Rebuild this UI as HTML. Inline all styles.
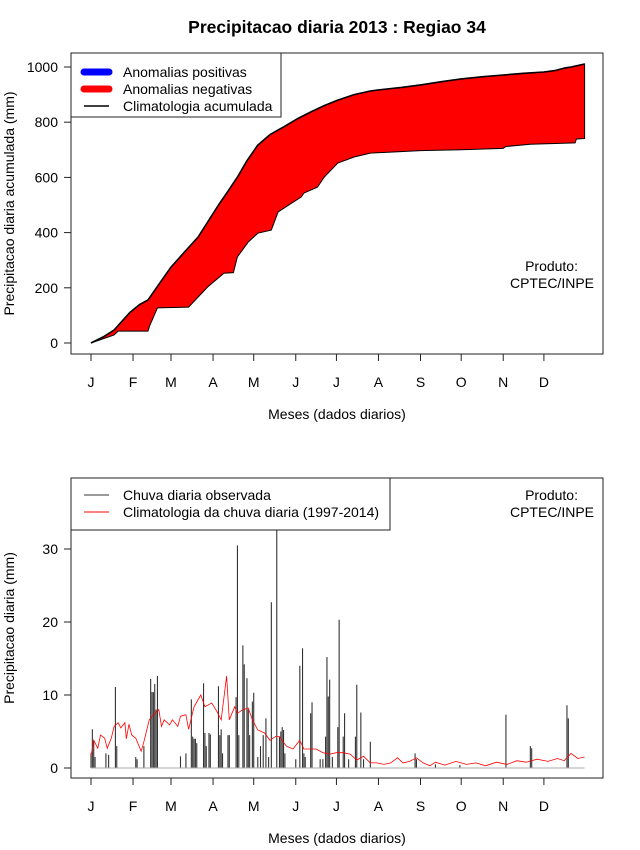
<!DOCTYPE html>
<html><head><meta charset="utf-8"><title>Precipitacao diaria 2013 : Regiao 34</title>
<style>
body{margin:0;background:#fff;}
svg{display:block;font-family:"Liberation Sans",Arial,sans-serif;}
</style></head>
<body>
<svg id="chart" width="640" height="850" viewBox="0 0 640 850">
<rect x="0" y="0" width="640" height="850" fill="#fff"/>
<text x="337" y="33" text-anchor="middle" font-size="17.5" font-weight="bold">Precipitacao diaria 2013 : Regiao 34</text>
<g id="top"></g>
<g id="bot"></g>
</svg>
<script>
// ---- data ----
const monthLabels = ["J","F","M","A","M","J","J","A","S","O","N","D"];
const monthStartDays = [1,32,60,91,121,152,182,213,244,274,305,335];
const topYTicks = [0,200,400,600,800,1000];
const botYTicks = [0,10,20,30];
// cumulative climatology knots (day, mm)
const climCumDays = [1,10,18,25,30,37,43,50,60,70,80,95,102,109,116,124,133,143,153,163,173,183,195,207,213,230,244,260,274,290,305,320,335,343,350,355,365];
const climCumVals = [0,22,47,85,112,140,156,205,275,330,384,500,550,601,660,717,755,783,812,837,860,880,900,913,917,926,935,947,957,965,971,977,982,987,996,1000,1011];
// cumulative observed knots (day, mm)
const obsCumDays = [1,18,21,43,44,50,73,87,99,106,109,117,124,134,139,149,156,158,168,173,183,195,207,244,274,305,307,325,358,359,365];
const obsCumVals = [0,29,43,43,59,127,130,203,253,255,312,366,398,409,475,507,529,543,565,601,652,674,688,697,700,705,712,720,725,739,741];
// daily observed rain (day, mm)
const obsDays = [1,2,3,4,12,14,19,20,34,35,40,45,46,47,48,49,50,67,71,75,76,77,78,79,84,85,86,88,89,95,96,97,98,102,103,108,109,110,113,114,116,117,118,120,121,124,126,128,130,132,134,138,140,141,142,143,144,152,155,157,158,159,163,164,170,172,174,175,176,177,179,183,184,187,188,191,196,197,200,202,207,240,241,255,273,307,325,326,352,353];
const obsVals = [2,5.3,3.8,1.5,2,1.8,11.1,3,1.5,1.2,3,12.2,10.4,10.4,11.5,8,12.6,1.6,2,9.4,4.3,4,4,3.4,11.6,4.8,3,4.8,4.6,11.2,4.5,5.3,2,4.5,4.5,9.7,30.5,4.5,16.8,14.2,12.3,8,4.5,9.1,10.3,1.5,3,4.5,6.8,1.5,22.7,38,4.3,5,5.6,5.2,2,1.2,14,16.4,2,1.5,7.5,9,1.2,1.2,4.3,15.2,9.8,12.1,1.5,5.6,20.3,4.3,7.5,1.2,4.3,11.4,7.6,1.2,3.6,2,1.2,0.5,0.4,7.3,3,2.7,8.6,6.8];
// daily climatology (day, mm)
const climDays = [1,3,6,8,11,13,16,18,21,23,26,27,29,31,34,38,40,44,48,51,53,55,59,61,65,67,71,73,77,82,85,90,94,97,101,103,107,109,113,117,120,124,129,133,137,140,145,150,155,158,163,167,172,177,182,187,192,197,202,207,212,217,222,227,231,236,241,246,251,255,262,270,278,285,292,300,308,315,322,330,338,345,350,355,360,365];
const climVals = [1.6,3.8,2.7,4.5,4.1,2.7,4.1,5.7,6.2,5.5,6.2,4.0,6.0,4.5,4.1,2.3,3.6,6.6,7.5,8.0,5.7,6.6,5.9,6.6,5.7,7.1,7.3,5.3,8.4,10.0,8.4,8.9,7.7,6.6,12.6,6.6,8.4,7.5,8.0,8.2,6.6,5.2,4.8,3.8,4.3,4.3,3.0,2.6,3.8,2.6,2.6,2.6,2.1,1.9,2.1,2.1,1.9,1.1,1.6,0.7,0.7,0.5,0.7,1.4,0.7,0.9,1.4,0.7,0.3,0.8,0.4,0.9,0.5,0.7,0.3,0.8,0.5,1.0,0.8,1.2,0.9,1.3,1.0,2.0,1.3,1.5];

// ---- helpers ----
const NS="http://www.w3.org/2000/svg";
function mk(parent,tag,attrs,txt){const e=document.createElementNS(NS,tag);for(const k in attrs)e.setAttribute(k,attrs[k]);if(txt!==undefined)e.textContent=txt;parent.appendChild(e);return e;}
const xDay = d => 91 + (d-1)*1.356;
const yTop = v => 343 - v*0.276;
const yBot = v => 768 - v*7.3;

function drawAxes(g, box, yTicks, yFn, yTitle, yTitleX, isTop){
  const r=mk(g,'rect',{x:box.x,y:box.y,width:box.w,height:box.h,fill:'none',stroke:'#222','stroke-width':1});
  
  
  const bottom=box.y+box.h;
  monthStartDays.forEach((d,i)=>{
    const x=xDay(d);
    const t=mk(g,'line',{x1:x,x2:x,y1:bottom,y2:bottom+7,stroke:'#222'});
    
    
    const l=mk(g,'text',{x:x,y:bottom+33,'text-anchor':'middle','font-size':14},monthLabels[i]);
    
    
  });
  yTicks.forEach(v=>{
    const y=yFn(v);
    const t=mk(g,'line',{x1:box.x-7,x2:box.x,y1:y,y2:y,stroke:'#222'});
    
    
    const l=mk(g,'text',{x:box.x-13,y:y+5,'text-anchor':'end','font-size':14},String(v));
    
    
  });
  const xt=mk(g,'text',{x:337,y:bottom+65,'text-anchor':'middle','font-size':14},'Meses (dados diarios)');
  
  
  const cy=box.y+box.h/2;
  const yt=mk(g,'text',{x:yTitleX,y:cy,'text-anchor':'middle','font-size':14,transform:`rotate(-90 ${yTitleX} ${cy})`},yTitle);
  
  
  const p1=mk(g,'text',{x:578,y:isTop?271:500,'text-anchor':'end','font-size':14},'Produto:');
  
  
  const p2=mk(g,'text',{x:594,y:isTop?288:517,'text-anchor':'end','font-size':14},'CPTEC/INPE');
  
  
}

// ---- top panel ----
const topBox={x:71,y:53,w:532,h:301};
const gt=document.getElementById('top');
{
  let up=climCumDays.map((d,i)=>`${xDay(d).toFixed(1)},${yTop(climCumVals[i]).toFixed(1)}`);
  let lo=obsCumDays.map((d,i)=>`${xDay(d).toFixed(1)},${yTop(obsCumVals[i]).toFixed(1)}`).reverse();
  const area=mk(gt,'polygon',{points:up.concat(lo).join(' '),fill:'#ff0000',stroke:'#000','stroke-width':1});
  
  
  const cl=mk(gt,'polyline',{points:up.join(' '),fill:'none',stroke:'#000','stroke-width':1.6,'stroke-linejoin':'round'});
  
  
}
drawAxes(gt,topBox,topYTicks,yTop,'Precipitacao diaria acumulada (mm)',14,true);
{
  const lg=mk(gt,'g',{});
  
  
  mk(lg,'rect',{x:71,y:53,width:210,height:64,fill:'#fff',stroke:'#222'});
  const items=[['Anomalias positivas','#0000ff',7],['Anomalias negativas','#ff0000',7],['Climatologia acumulada','#000',1.5]];
  items.forEach((it,i)=>{
    const y=72+i*17;
    const ln=mk(lg,'line',{x1:84,x2:109,y1:y,y2:y,stroke:it[1],'stroke-width':it[2],'stroke-linecap':it[2]>2?'round':'butt'});
    
    
    const tx=mk(lg,'text',{x:123,y:y+5,'font-size':14},it[0]);
    
    
  });
}

// ---- bottom panel ----
const botBox={x:71,y:478,w:532,h:300};
const gb=document.getElementById('bot');
{
  const bars=mk(gb,'g',{});
  
  
  obsDays.forEach((d,i)=>{
    const x=xDay(d);
    const b=mk(bars,'line',{x1:x,x2:x,y1:yBot(0),y2:yBot(obsVals[i]),stroke:'#333','stroke-width':1.1});
    
    
  });
  const base=mk(gb,'line',{x1:xDay(1),x2:xDay(365),y1:yBot(0),y2:yBot(0),stroke:'#aaa','stroke-width':1});
  
  
  const pts=climDays.map((d,i)=>`${xDay(d).toFixed(1)},${yBot(climVals[i]).toFixed(1)}`).join(' ');
  const cl=mk(gb,'polyline',{points:pts,fill:'none',stroke:'#ff0000','stroke-width':0.8});
  
  
}
drawAxes(gb,botBox,botYTicks,yBot,'Precipitacao diaria (mm)',14,false);
{
  const lg=mk(gb,'g',{});
  
  
  mk(lg,'rect',{x:71,y:478,width:319,height:52,fill:'#fff',stroke:'#222'});
  const items=[['Chuva diaria observada','#333'],['Climatologia da chuva diaria (1997-2014)','#ff0000']];
  items.forEach((it,i)=>{
    const y=495+i*17;
    const ln=mk(lg,'line',{x1:84,x2:109,y1:y,y2:y,stroke:it[1],'stroke-width':1});
    
    
    const tx=mk(lg,'text',{x:123,y:y+5,'font-size':14},it[0]);
    
    
  });
}
</script>
</body></html>
